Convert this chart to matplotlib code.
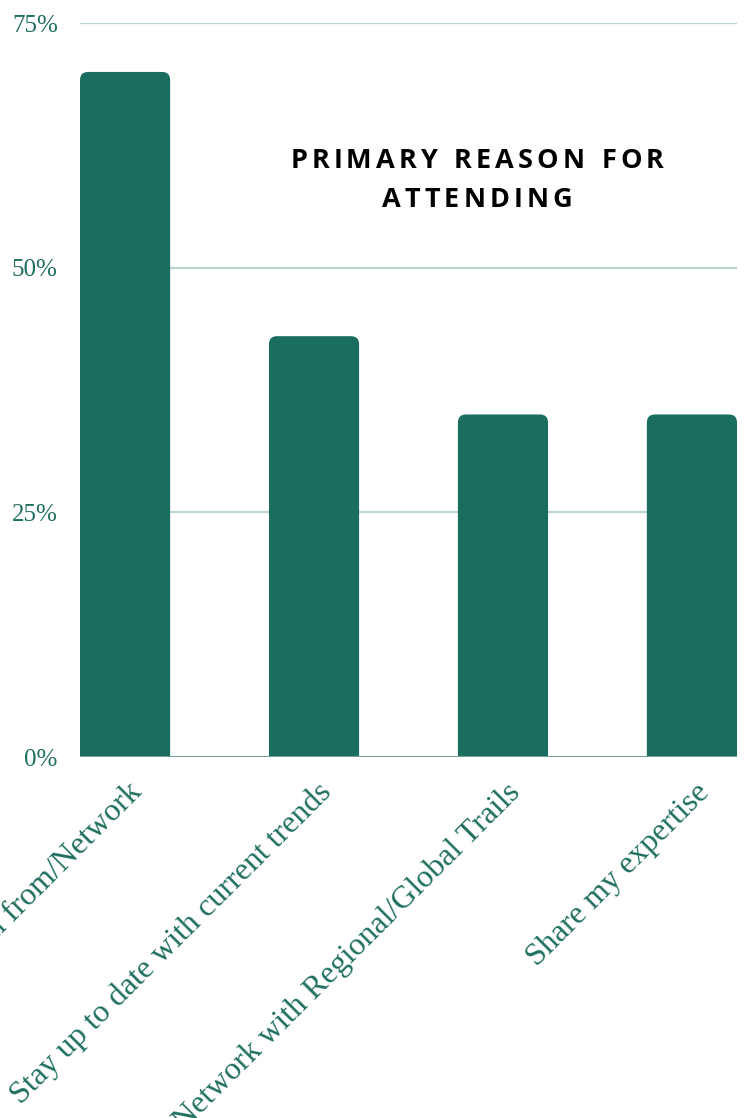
import matplotlib.pyplot as plt
from matplotlib.patches import FancyBboxPatch
from matplotlib.transforms import ScaledTranslation

categories = ["Learn from/Network", "Stay up to date with current trends",
              "Network with Regional/Global Trails", "Share my expertise"]
values = [70, 43, 35, 35]
yticks = [0, 25, 50, 75]
ytick_labels = ["0%", "25%", "50%", "75%"]
title_lines = ["PRIMARY REASON FOR", "ATTENDING"]

bar_color = "#1a6e60"
text_color = "#1f6f60"
grid_color = "#bcd7d1"

W, H = 747, 1118
fig = plt.figure(figsize=(W / 100, H / 100), dpi=100)
ax = fig.add_axes([80 / W, 361 / H, 657 / W, 734 / H])

bar_w = 0.477
x = list(range(len(categories)))
bars = ax.bar(x, values, width=bar_w, color=bar_color)
ax.set_xlim(-bar_w / 2, len(categories) - 1 + bar_w / 2)
ax.set_ylim(0, 75)

# rounded top corners: swap each bar for a rounded box that dips below 0
px_x = 657 / (ax.get_xlim()[1] - ax.get_xlim()[0])
px_y = 734 / 75
radius = 8 / px_x
for b in bars:
    b.set_visible(False)
    p = FancyBboxPatch((b.get_x() + radius, -20), b.get_width() - 2 * radius,
                       b.get_height() + 20 - radius * px_x / px_y,
                       boxstyle=f"round,pad={radius}", mutation_aspect=px_x / px_y,
                       fc=bar_color, ec="none", zorder=2)
    ax.add_patch(p)

for t in yticks[1:]:
    ax.axhline(t, color=grid_color, lw=1.6, zorder=1)
ax.axhline(0, color="#6fa398", lw=2.2, zorder=3)

for s in ax.spines.values():
    s.set_visible(False)
ax.set_yticks(yticks)
ax.set_yticklabels(ytick_labels, family="Liberation Serif", fontsize=18, color=text_color)
ax.tick_params(axis="y", length=0, pad=16)
ax.set_xticks([])

off = ScaledTranslation(13 / 100, -31 / 100, fig.dpi_scale_trans)
for i, lab in zip(x, categories):
    ax.text(i, 0, lab, transform=ax.get_xaxis_transform() + off, rotation=45,
            rotation_mode="anchor", ha="right", va="center",
            family="Liberation Serif", fontsize=23, color=text_color, clip_on=False)

# letter-spaced title, drawn char by char
renderer = fig.canvas.get_renderer()
tracking = 4
fsize = 19.5
for line, base in zip(title_lines, [168, 207]):
    widths = []
    for ch in line:
        t = fig.text(0, 0, ch if ch != " " else "I", family="Open Sans",
                     weight="bold", fontsize=fsize)
        widths.append(t.get_window_extent(renderer).width)
        t.remove()
    total = sum(widths) + tracking * (len(line) - 1)
    cx = 477 - total / 2
    for ch, w in zip(line, widths):
        if ch != " ":
            fig.text(cx / W, (H - base) / H, ch, family="Open Sans", weight="bold",
                     fontsize=fsize, color="black", ha="left", va="baseline")
        cx += w + tracking

fig.savefig("out.png", dpi=100)
